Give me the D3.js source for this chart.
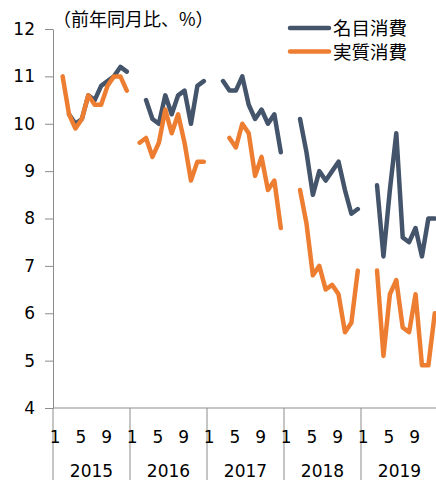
<!DOCTYPE html>
<html>
<head>
<meta charset="utf-8">
<script src="https://cdn.jsdelivr.net/npm/d3@7"></script>
<style>
  body { margin: 0; background: #fff; }
  svg { display: block; }
  .num { font-family: "DejaVu Sans", Verdana, sans-serif; font-size: 17px; fill: #000; }
  .jp { font-family: "Noto Sans CJK JP", sans-serif; fill: #000; }
</style>
</head>
<body>
<div id="chart"></div>
<script>
// years shown on the lower axis, 12 months each
var years = [2015, 2016, 2017, 2018, 2019];
var monthTicks = [1, 5, 9];
var yTicks = [4, 5, 6, 7, 8, 9, 10, 11, 12];

// 名目消費 (nominal), year-on-year %, Jan..Dec per year, null = no data
var nominal = [
  null, null, 10.2, 10.0, 10.1, 10.6, 10.5, 10.8, 10.9, 11.0, 11.2, 11.1,
  null, null, 10.5, 10.1, 10.0, 10.6, 10.2, 10.6, 10.7, 10.0, 10.8, 10.9,
  null, null, 10.9, 10.7, 10.7, 11.0, 10.4, 10.1, 10.3, 10.0, 10.2, 9.4,
  null, null, 10.1, 9.4, 8.5, 9.0, 8.8, 9.0, 9.2, 8.6, 8.1, 8.2,
  null, null, 8.7, 7.2, 8.6, 9.8, 7.6, 7.5, 7.8, 7.2, 8.0, 8.0
];

// 実質消費 (real)
var real = [
  null, 11.0, 10.2, 9.9, 10.1, 10.6, 10.4, 10.4, 10.8, 11.0, 11.0, 10.7,
  null, 9.6, 9.7, 9.3, 9.6, 10.3, 9.8, 10.2, 9.6, 8.8, 9.2, 9.2,
  null, null, null, 9.7, 9.5, 10.0, 9.8, 8.9, 9.3, 8.6, 8.8, 7.8,
  null, null, 8.6, 7.9, 6.8, 7.0, 6.5, 6.6, 6.4, 5.6, 5.8, 6.9,
  null, null, 6.9, 5.1, 6.4, 6.7, 5.7, 5.6, 6.4, 4.9, 4.9, 6.0
];

var seriesNames = ["名目消費", "実質消費"];
var colors = ["#44546a", "#ed7d31"];

var width = 436, height = 480;
var plotLeft = 53, plotTop = 29, plotBottom = 408, yearW = 77;

var svg = d3.select("#chart").append("svg")
  .attr("width", width)
  .attr("height", height);

// one band per month
var months = d3.range(years.length * 12);
var x = d3.scaleBand()
  .domain(months)
  .range([plotLeft, plotLeft + yearW * years.length]);

var y = d3.scaleLinear()
  .domain([4, 12])
  .range([plotBottom, plotTop]);

// y axis
var yAxis = svg.append("g")
  .attr("transform", "translate(" + plotLeft + ",0)")
  .call(d3.axisLeft(y).tickValues(yTicks).tickSize(8).tickPadding(10).tickSizeOuter(0));
yAxis.select(".domain").attr("stroke", "#8c8c8c");
yAxis.selectAll(".tick line").attr("stroke", "#8c8c8c");
yAxis.attr("font-size", null).attr("font-family", null);
yAxis.selectAll("text").attr("class", "num");

// x baseline
svg.append("line")
  .attr("x1", plotLeft).attr("x2", width)
  .attr("y1", plotBottom).attr("y2", plotBottom)
  .attr("stroke", "#8c8c8c");

// year separators
svg.selectAll(".sep")
  .data(d3.range(years.length + 1))
  .enter()
  .append("line")
    .attr("class", "sep")
    .attr("x1", function(i) { return plotLeft + i * yearW; })
    .attr("x2", function(i) { return plotLeft + i * yearW; })
    .attr("y1", plotBottom).attr("y2", height)
    .attr("stroke", "#8c8c8c");

// month labels
years.forEach(function(yr, i) {
  monthTicks.forEach(function(m) {
    svg.append("text")
      .attr("class", "num")
      .attr("x", x(i * 12 + m - 1) + x.bandwidth() / 2 - 1)
      .attr("y", 443)
      .attr("text-anchor", "middle")
      .text(m);
  });
  svg.append("text")
    .attr("class", "num")
    .attr("x", plotLeft + i * yearW + yearW / 2)
    .attr("y", 477)
    .attr("text-anchor", "middle")
    .text(yr);
});

// lines
var line = d3.line()
  .defined(function(d) { return d != null; })
  .x(function(d, i) { return x(i) + x.bandwidth() / 2; })
  .y(function(d) { return y(d); });

[nominal, real].forEach(function(s, k) {
  svg.append("path")
    .datum(s)
    .attr("d", line)
    .attr("fill", "none")
    .attr("stroke", colors[k])
    .attr("stroke-width", 4.5)
    .attr("stroke-linejoin", "round")
    .attr("stroke-linecap", "round");
});

// unit label
svg.append("text")
  .attr("class", "jp")
  .attr("x", 53)
  .attr("y", 26)
  .attr("font-size", 18)
  .text("（前年同月比、%）");

// legend
seriesNames.forEach(function(name, k) {
  var ly = 28 + k * 23.5;
  svg.append("line")
    .attr("x1", 290).attr("x2", 329)
    .attr("y1", ly).attr("y2", ly)
    .attr("stroke", colors[k])
    .attr("stroke-width", 4.5)
    .attr("stroke-linecap", "round");
  svg.append("text")
    .attr("class", "jp")
    .attr("x", 333)
    .attr("y", ly + 7)
    .attr("font-size", 18.5)
    .text(name);
});
</script>
</body>
</html>
